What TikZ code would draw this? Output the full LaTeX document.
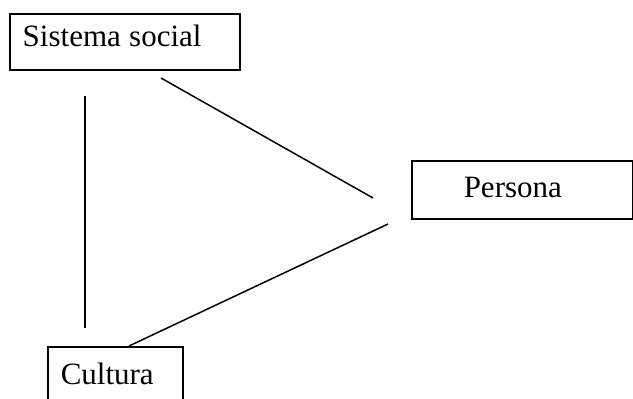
\documentclass[tikz,border=0pt]{standalone}
\usepackage{fontspec}
\setmainfont{Liberation Serif}
\usetikzlibrary{calc}
\tikzset{
  cajon/.style={draw, rectangle, line width=\grosor, anchor=north west,
    align=left, font=\fontsize{31}{35}\selectfont},
  enlace/.style={line width=\grosor, line cap=butt}
}
\newcommand\grosor{1.5pt}
\begin{document}
\begin{tikzpicture}[x=1pt, y=-1pt]
\useasboundingbox (0,0) rectangle (633,399);
%cajas
\node[cajon, text width=204pt, inner xsep=13pt, minimum height=56pt, text depth=13pt] (social) at (9,13) {Sistema\hspace{-2pt} social};
\node[cajon, text width=117pt, inner xsep=52pt, minimum height=58pt, text depth=4pt] (persona) at (411,160) {Persona};
\node[cajon, text width=109pt, inner xsep=13pt, minimum height=58pt, text depth=4pt] (cultura) at (47,346) {Cultura};
%
%extremos sueltos de las lineas
\coordinate (s1) at (85,96);
\coordinate (c1) at (85,328);
\coordinate (s2) at (161,78);
\coordinate (p2) at (373,198);
\coordinate (p3) at (388,224);
%
\draw[enlace] (s1) -- (c1); %social - cultura
\draw[enlace] (s2) -- (p2); %social - persona
\draw[enlace] (p3) -- ($(cultura.north west)+(82,0)$); %persona - cultura
\end{tikzpicture}
\end{document}
